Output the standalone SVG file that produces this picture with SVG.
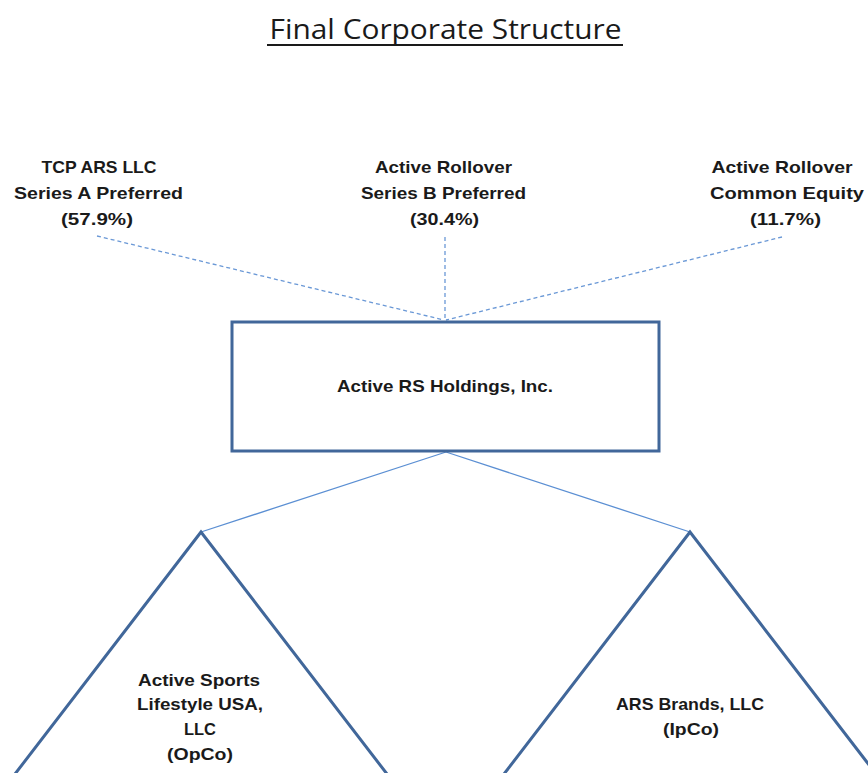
<svg xmlns="http://www.w3.org/2000/svg" width="868" height="773" viewBox="0 0 868 773">
<style>
.t{font-family:"Liberation Sans",Arial,sans-serif;font-size:17px;font-weight:bold;fill:#1a1a1a;text-anchor:middle;}
.title{font-family:"Open Sans","Liberation Sans",sans-serif;font-size:28px;fill:#1a1a1a;text-anchor:middle;}
.shape{fill:#fff;stroke:#41679a;stroke-width:3;}
.solid{stroke:#5b8fd3;stroke-width:1.3;fill:none;}
.dash{stroke:#6a98d6;stroke-width:1.3;fill:none;stroke-dasharray:4 3;}
</style>
<rect width="868" height="773" fill="#fff"/>
<g id="title">
<text class="title" x="445.5" y="39" textLength="352" lengthAdjust="spacingAndGlyphs">Final Corporate Structure</text>
<line x1="267" y1="45" x2="623" y2="45" stroke="#1a1a1a" stroke-width="2"/>
</g>
<g id="connectors">
<line class="dash" x1="97" y1="236" x2="444" y2="320"/>
<line class="dash" x1="445" y1="237" x2="445" y2="320"/>
<line class="dash" x1="782" y1="237" x2="446" y2="320"/>
<line class="solid" x1="446" y1="452" x2="201" y2="532"/>
<line class="solid" x1="446" y1="452" x2="690" y2="532"/>
</g>
<g id="tcp">
<text class="t" x="99" y="173" textLength="115" lengthAdjust="spacingAndGlyphs">TCP ARS LLC</text>
<text class="t" x="98.5" y="199" textLength="169" lengthAdjust="spacingAndGlyphs">Series A Preferred</text>
<text class="t" x="97" y="225" textLength="72" lengthAdjust="spacingAndGlyphs">(57.9%)</text>
</g>
<g id="seriesb">
<text class="t" x="443.5" y="173" textLength="137" lengthAdjust="spacingAndGlyphs">Active Rollover</text>
<text class="t" x="443.5" y="199" textLength="165" lengthAdjust="spacingAndGlyphs">Series B Preferred</text>
<text class="t" x="444.5" y="225" textLength="69" lengthAdjust="spacingAndGlyphs">(30.4%)</text>
</g>
<g id="common">
<text class="t" x="782" y="173" textLength="141" lengthAdjust="spacingAndGlyphs">Active Rollover</text>
<text class="t" x="787" y="199" textLength="154" lengthAdjust="spacingAndGlyphs">Common Equity</text>
<text class="t" x="785.5" y="225" textLength="71" lengthAdjust="spacingAndGlyphs">(11.7%)</text>
</g>
<g id="holdings">
<rect class="shape" x="232" y="322" width="427" height="129"/>
<text class="t" x="445" y="392" textLength="216" lengthAdjust="spacingAndGlyphs">Active RS Holdings, Inc.</text>
</g>
<g id="opco">
<polygon class="shape" points="201,532 -5,800 407,800"/>
<text class="t" x="199" y="686" textLength="122" lengthAdjust="spacingAndGlyphs">Active Sports</text>
<text class="t" x="200" y="710" textLength="126" lengthAdjust="spacingAndGlyphs">Lifestyle USA,</text>
<text class="t" x="200" y="735" textLength="32" lengthAdjust="spacingAndGlyphs">LLC</text>
<text class="t" x="200" y="760" textLength="66" lengthAdjust="spacingAndGlyphs">(OpCo)</text>
</g>
<g id="ipco">
<polygon class="shape" points="690,532 484,800 896,800"/>
<text class="t" x="690" y="710" textLength="148" lengthAdjust="spacingAndGlyphs">ARS Brands, LLC</text>
<text class="t" x="691" y="735" textLength="56" lengthAdjust="spacingAndGlyphs">(IpCo)</text>
</g>
</svg>
